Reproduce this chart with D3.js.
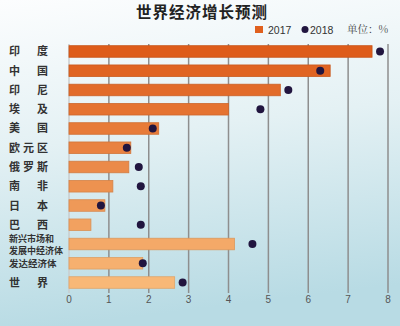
<!DOCTYPE html>
<html>
<head>
<meta charset="utf-8">
<script src="https://cdn.jsdelivr.net/npm/d3@7"></script>
<style>
  body { margin: 0; }
  svg { display: block; font-family: "Noto Sans CJK SC", sans-serif; }
</style>
</head>
<body>
<div id="chart"></div>
<script>
var width = 400, height = 326;

var countries = ["印度", "中国", "印尼", "埃及", "美国", "欧元区", "俄罗斯", "南非", "日本", "巴西", "新兴市场和|发展中经济体", "发达经济体", "世界"];
var v2017 = [7.6, 6.55, 5.3, 4.0, 2.25, 1.55, 1.5, 1.1, 0.9, 0.55, 4.15, 1.85, 2.65];
var v2018 = [7.8, 6.3, 5.5, 4.8, 2.1, 1.45, 1.75, 1.8, 0.8, 1.8, 4.6, 1.85, 2.85];
var ticks = [0, 1, 2, 3, 4, 5, 6, 7, 8];

var data = countries.map(function(c, i) { return {name: c, a: v2017[i], b: v2018[i], i: i}; });

var x = d3.scaleLinear().domain([0, 8]).range([69, 388]);
var y = d3.scaleBand().domain(countries).range([38, 296]).padding(0.4);
var barColor = d3.scaleLinear().domain([0, countries.length - 1])
    .range(["#de5c1a", "#f8b877"]);

var svg = d3.select("#chart").append("svg")
    .attr("width", width)
    .attr("height", height);

var defs = svg.append("defs");
var bg = defs.append("linearGradient").attr("id", "bg")
    .attr("x1", "0").attr("y1", "0").attr("x2", "0.15").attr("y2", "1");
bg.append("stop").attr("offset", "0").attr("stop-color", "#fcfdfe");
bg.append("stop").attr("offset", "0.45").attr("stop-color", "#e4f1f4");
bg.append("stop").attr("offset", "1").attr("stop-color", "#b8dbe4");

svg.append("rect").attr("width", width).attr("height", height).attr("fill", "url(#bg)");

// title
svg.append("text")
    .attr("x", 202).attr("y", 18)
    .attr("text-anchor", "middle")
    .style("font-size", "15.5px")
    .style("font-weight", "bold")
    .style("fill", "#222")
    .style("letter-spacing", "1px")
    .text("世界经济增长预测");

// legend
svg.append("rect").attr("x", 255).attr("y", 26).attr("width", 8).attr("height", 7)
    .attr("fill", "#e0601e");
svg.append("text").attr("x", 268).attr("y", 33.5).style("font-size", "10.5px").style("fill", "#333")
    .style("font-family", "Liberation Sans, Arial").text("2017");
svg.append("circle").attr("cx", 305).attr("cy", 29.5).attr("r", 3.5).attr("fill", "#21153f");
svg.append("text").attr("x", 310).attr("y", 33.5).style("font-size", "10.5px").style("fill", "#333")
    .style("font-family", "Liberation Sans, Arial").text("2018");
svg.append("text").attr("x", 347).attr("y", 33).style("font-size", "10.5px").style("fill", "#444")
    .style("font-family", "Noto Serif CJK SC, Noto Sans CJK SC").text("单位：%");

// grid
svg.selectAll(".grid")
    .data(ticks)
    .enter().append("line")
    .attr("x1", function(d) { return x(d); })
    .attr("x2", function(d) { return x(d); })
    .attr("y1", 44)
    .attr("y2", 293)
    .attr("stroke", function(d) { return d === 0 ? "#c8ccce" : "#8e8e8e"; })
    .attr("stroke-width", 1.5);

// tick labels
svg.selectAll(".tick")
    .data(ticks)
    .enter().append("text")
    .attr("x", function(d) { return x(d); })
    .attr("y", 303)
    .attr("text-anchor", "middle")
    .style("font-size", "10px")
    .style("font-family", "Liberation Sans, Arial")
    .style("fill", "#555")
    .text(function(d) { return d; });

// bars
svg.selectAll(".bar")
    .data(data)
    .enter().append("rect")
    .attr("x", x(0))
    .attr("y", function(d) { return y(d.name); })
    .attr("width", function(d) { return x(d.a) - x(0); })
    .attr("height", y.bandwidth())
    .attr("fill", function(d) { return barColor(d.i); })
    .attr("stroke", function(d) { return d3.color(barColor(d.i)).darker(0.3); })
    .attr("stroke-width", 0.8);

// dots
svg.selectAll(".dot")
    .data(data)
    .enter().append("circle")
    .attr("cx", function(d) { return x(d.b); })
    .attr("cy", function(d) { return y(d.name) + y.bandwidth() / 2; })
    .attr("r", 4)
    .attr("fill", "#21153f");

// category labels
var labels = svg.selectAll(".lab")
    .data(data)
    .enter().append("g")
    .attr("transform", function(d) { return "translate(0," + (y(d.name) + y.bandwidth() / 2) + ")"; });

labels.each(function(d) {
    var g = d3.select(this);
    var parts = d.name.split("|");
    if (parts.length > 1) {
        parts.forEach(function(p, k) {
            g.append("text").attr("x", 9).attr("y", k === 0 ? -2 : 9.5)
                .style("font-size", "9px").style("font-weight", "bold").style("fill", "#333")
                .text(p);
        });
    } else if (d.name.length <= 3) {
        var chars = d.name.split("");
        var cx = d3.scaleLinear().domain([0, chars.length - 1]).range([14.5, 42.5]);
        g.selectAll("text").data(chars).enter().append("text")
            .attr("x", function(c, k) { return cx(k); })
            .attr("y", 4)
            .attr("text-anchor", "middle")
            .style("font-size", "11px").style("font-weight", "bold").style("fill", "#333")
            .text(function(c) { return c; });
    } else {
        g.append("text").attr("x", 9).attr("y", 4)
            .style("font-size", "9.5px").style("font-weight", "bold").style("fill", "#333")
            .text(d.name);
    }
});
</script>
</body>
</html>
